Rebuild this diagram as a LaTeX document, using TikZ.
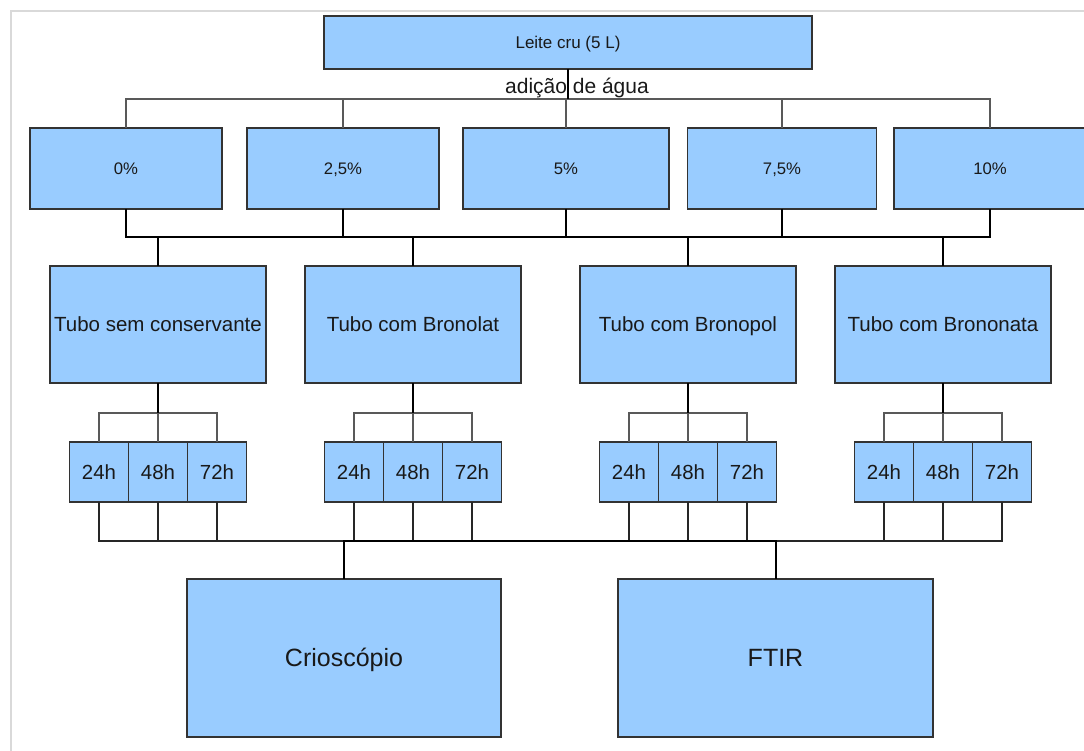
\documentclass[tikz,border=0pt]{standalone}
\usepackage{fontspec}
\setsansfont{Liberation Sans}
\usepackage[dvipsnames]{xcolor}
\usetikzlibrary{positioning}

\definecolor{boxblue}{HTML}{99CCFF}
\definecolor{boxline}{HTML}{333333}
\definecolor{framegray}{HTML}{D9D9D9}

\begin{document}
\begin{tikzpicture}[x=1pt,y=-1pt,thick,
    base node/.style={rectangle,draw=boxline,line width=1.4pt,fill=boxblue,inner sep=0pt,outer sep=0pt,text=black!90,text depth=0pt,font=\sffamily},
    top node/.style={base node,minimum width=488pt,minimum height=53pt,text height=12.2pt,font=\sffamily\fontsize{17}{20}\selectfont},
    pct node/.style={base node,minimum width=192pt,minimum height=81pt,text height=12pt,font=\sffamily\fontsize{16.7}{20}\selectfont},
    tube node/.style={base node,minimum width=216pt,minimum height=117pt,text height=14.7pt,font=\sffamily\fontsize{20.5}{24}\selectfont},
    hour node/.style={base node,minimum width=59pt,minimum height=60pt,text height=14.6pt,font=\sffamily\fontsize{20.4}{24}\selectfont},
    big node/.style={base node,minimum width=314pt,minimum height=158pt,text height=17.9pt,font=\sffamily\fontsize{25}{30}\selectfont},
    thin line/.style={draw=black!65,line width=1.2pt},
    mid line/.style={draw=black!85,line width=1.5pt},
    thick line/.style={draw=black,line width=2pt}]
    \useasboundingbox (0,0) rectangle (1084,751);
    \draw[framegray,line width=2pt] (11,751) -- (11,11) -- (1084,11);

    \node[top node] (leite) at (568,42.5) {Leite cru (5 L)};

    \node[pct node] (p0) at (126,168.5) {0\%};
    \node[pct node] (p1) at (343,168.5) {2,5\%};
    \node[pct node,minimum width=206pt] (p2) at (566,168.5) {5\%};
    \node[pct node,minimum width=189pt] (p3) at (782,168.5) {7,5\%};
    \node[pct node] (p4) at (990,168.5) {10\%};

    \node[tube node] (t0) at (158,324.5) {Tubo sem conservante};
    \node[tube node] (t1) at (413,324.5) {Tubo com Bronolat};
    \node[tube node] (t2) at (688,324.5) {Tubo com Bronopol};
    \node[tube node] (t3) at (943,324.5) {Tubo com Brononata};

    \foreach \n in {0,1,2,3} {
        \node[hour node] (b\n) [below=59pt of t\n] {48h};
        \node[hour node] (a\n) [left=0pt of b\n] {24h};
        \node[hour node] (c\n) [right=0pt of b\n] {72h};
    }

    \node[big node] (crio) at (344,658) {Crioscópio};
    \node[big node,minimum width=315pt] (ftir) at (775.5,658) {FTIR};

    % leite -> percentages
    \foreach \p in {p0,p1,p2,p3,p4}
        \draw[thin line] (leite.south) -- ++(0,30) -| (\p.north);
    \draw[thick line] (leite.south) -- ++(0,30);
    \node[font=\sffamily\fontsize{21}{24}\selectfont,text=black!90] (agua) at (577,88) {adição de água};

    % percentages -> tubes
    \foreach \p/\t in {p0/t0,p1/t0,p1/t1,p2/t1,p2/t2,p3/t2,p3/t3,p4/t3}
        \draw[thick line] (\p.south) -- ++(0,28) -| (\t.north);

    % tubes -> hours
    \foreach \n in {0,1,2,3} {
        \foreach \h in {a,b,c}
            \draw[thin line] (t\n.south) -- ++(0,30) -| (\h\n.north);
        \draw[thick line] (t\n.south) -- ++(0,30);
    }

    % hours -> analysis
    \foreach \n/\m in {0/crio,1/crio,2/ftir,3/ftir}
        \foreach \h in {a,b,c}
            \draw[mid line] (\h\n.south) -- ++(0,39) -| (\m.north);
    \draw[thick line] (crio.north) -- ++(0,-38) -| (ftir.north);
\end{tikzpicture}
\end{document}
